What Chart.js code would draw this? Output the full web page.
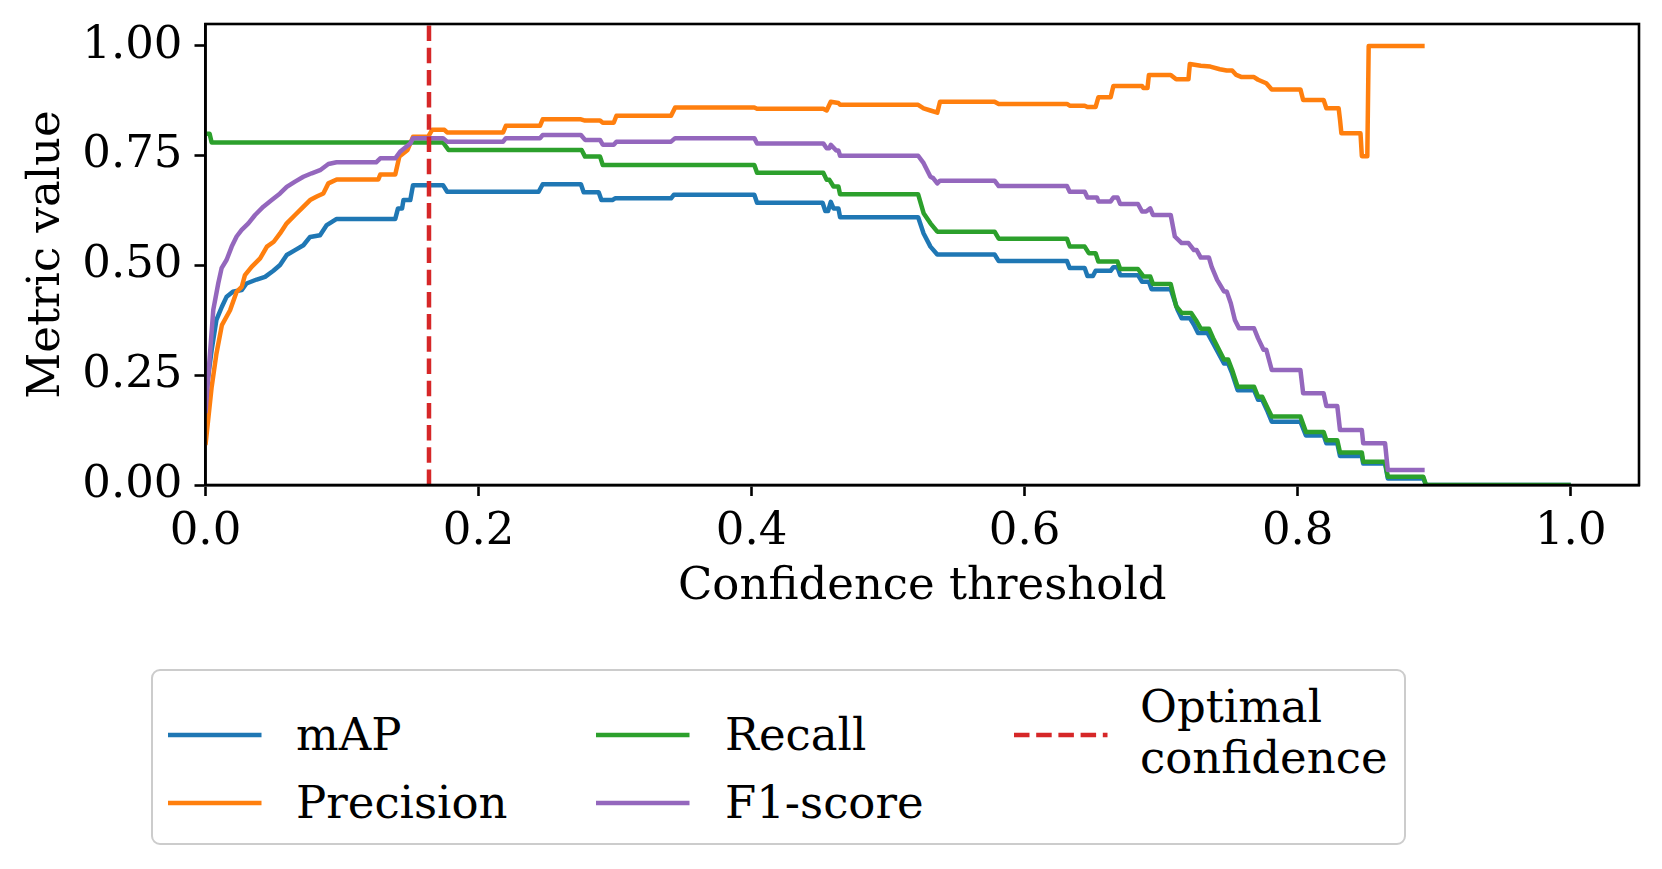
<!DOCTYPE html>
<html><head><meta charset="utf-8">
<script src="https://cdn.jsdelivr.net/npm/chart.js@4.4.0/dist/chart.umd.min.js"></script>
<style>
html,body{margin:0;padding:0;background:#fff;}
#wrap{position:relative;width:1662px;height:869px;overflow:hidden;background:#fff;}
#c{position:absolute;left:0;top:0;}
#legendBox{position:absolute;left:150.6px;top:669px;width:1255px;height:176px;box-sizing:border-box;border:2.5px solid #cccccc;border-radius:9px;background:#fff;}
.lbl{position:absolute;white-space:nowrap;line-height:54px;height:54px;font-family:'DejaVu Serif',serif;font-size:45px;color:#000;}
.hdl{position:absolute;}
</style></head>
<body>
<div id="wrap">
<canvas id="c" width="1662" height="869"></canvas>
<div id="legendBox"></div>
</div>
<script>
// ---- data ----
const xTicks = [0, 0.2, 0.4, 0.6, 0.8, 1.0];
const yTicks = [0, 0.25, 0.5, 0.75, 1.0];
const optimalConfidence = 0.1637;

const mapX = [0.000,0.0045,0.008,0.012,0.0155,0.020,0.0265,0.030,0.0375,0.0436,0.0497,0.0546,0.0595,0.0656,0.0717,0.0766,0.0839,0.0888,0.0961,0.139,0.141,0.144,0.145,0.150,0.152,0.174,0.177,0.244,0.247,0.275,0.277,0.288,0.290,0.298,0.300,0.341,0.343,0.402,0.404,0.452,0.454,0.456,0.458,0.460,0.4636,0.4648,0.522,0.526,0.531,0.536,0.578,0.581,0.631,0.633,0.644,0.646,0.650,0.652,0.663,0.665,0.668,0.670,0.683,0.686,0.691,0.693,0.707,0.712,0.715,0.721,0.724,0.727,0.734,0.738,0.746,0.749,0.752,0.756,0.768,0.771,0.774,0.778,0.781,0.802,0.806,0.819,0.821,0.829,0.831,0.847,0.848,0.864,0.866,0.892,0.894,1.000];
const mapY = [0.200,0.307,0.376,0.406,0.429,0.440,0.444,0.459,0.468,0.474,0.488,0.501,0.524,0.535,0.546,0.565,0.569,0.592,0.606,0.606,0.630,0.630,0.649,0.649,0.683,0.683,0.668,0.668,0.685,0.685,0.667,0.667,0.649,0.649,0.653,0.653,0.661,0.661,0.643,0.643,0.624,0.624,0.645,0.630,0.630,0.610,0.610,0.573,0.543,0.525,0.525,0.510,0.510,0.494,0.494,0.476,0.476,0.488,0.488,0.496,0.496,0.478,0.478,0.463,0.463,0.446,0.446,0.399,0.380,0.380,0.365,0.346,0.346,0.323,0.277,0.277,0.254,0.216,0.216,0.194,0.194,0.167,0.144,0.144,0.113,0.113,0.095,0.095,0.066,0.066,0.049,0.049,0.015,0.015,0.000,0.000];

const precisionX = [0.000,0.0045,0.008,0.012,0.018,0.0228,0.0265,0.0289,0.0338,0.040,0.045,0.050,0.0546,0.0595,0.0656,0.0705,0.0766,0.0815,0.0863,0.090,0.0961,0.1266,0.128,0.139,0.142,0.148,0.152,0.163,0.166,0.175,0.177,0.218,0.220,0.245,0.247,0.275,0.278,0.289,0.291,0.299,0.301,0.341,0.344,0.402,0.404,0.4525,0.455,0.458,0.4636,0.4648,0.522,0.526,0.531,0.536,0.538,0.578,0.581,0.631,0.633,0.644,0.646,0.652,0.654,0.663,0.665,0.686,0.687,0.690,0.691,0.707,0.711,0.720,0.721,0.729,0.736,0.743,0.748,0.752,0.755,0.759,0.768,0.771,0.777,0.781,0.802,0.804,0.819,0.821,0.830,0.831,0.832,0.846,0.847,0.851,0.852,0.893];
const precisionY = [0.091,0.223,0.299,0.364,0.398,0.440,0.451,0.478,0.497,0.516,0.543,0.554,0.573,0.596,0.615,0.630,0.649,0.657,0.664,0.687,0.696,0.696,0.707,0.707,0.748,0.763,0.793,0.793,0.809,0.809,0.803,0.803,0.818,0.818,0.833,0.833,0.830,0.830,0.825,0.825,0.841,0.841,0.860,0.860,0.857,0.857,0.853,0.873,0.870,0.866,0.866,0.858,0.853,0.848,0.873,0.873,0.868,0.868,0.864,0.864,0.861,0.861,0.883,0.883,0.909,0.909,0.904,0.904,0.934,0.934,0.924,0.924,0.959,0.955,0.953,0.947,0.944,0.944,0.934,0.929,0.929,0.923,0.915,0.901,0.901,0.877,0.877,0.858,0.858,0.832,0.801,0.801,0.749,0.749,1.000,1.000];

const recallX = [0.000,0.003,0.0045,0.174,0.178,0.2755,0.278,0.289,0.291,0.402,0.404,0.4525,0.455,0.457,0.460,0.4636,0.4648,0.522,0.526,0.531,0.536,0.578,0.581,0.631,0.633,0.644,0.647,0.652,0.654,0.668,0.670,0.683,0.687,0.692,0.694,0.707,0.711,0.715,0.722,0.726,0.729,0.735,0.738,0.746,0.749,0.752,0.756,0.768,0.771,0.774,0.778,0.781,0.802,0.806,0.819,0.821,0.829,0.831,0.847,0.848,0.864,0.866,0.892,0.894,1.000];
const recallY = [0.800,0.800,0.780,0.780,0.763,0.763,0.748,0.748,0.729,0.729,0.711,0.711,0.695,0.695,0.680,0.680,0.662,0.662,0.619,0.596,0.577,0.577,0.561,0.561,0.543,0.543,0.528,0.528,0.509,0.509,0.492,0.492,0.475,0.475,0.458,0.458,0.407,0.392,0.392,0.373,0.356,0.356,0.335,0.286,0.286,0.262,0.224,0.224,0.201,0.201,0.175,0.156,0.156,0.121,0.121,0.102,0.102,0.074,0.074,0.053,0.053,0.019,0.019,0.000,0.000];

const f1X = [0.000,0.0033,0.0057,0.0094,0.0118,0.0155,0.0192,0.0228,0.0265,0.0314,0.0363,0.0424,0.0485,0.0546,0.0595,0.0656,0.0717,0.0778,0.0839,0.090,0.096,0.125,0.128,0.139,0.1425,0.150,0.152,0.174,0.177,0.218,0.220,0.245,0.247,0.275,0.278,0.289,0.291,0.299,0.301,0.341,0.344,0.402,0.404,0.4525,0.455,0.457,0.458,0.462,0.4636,0.4648,0.522,0.526,0.531,0.533,0.536,0.538,0.578,0.581,0.631,0.633,0.644,0.646,0.653,0.654,0.663,0.665,0.668,0.670,0.683,0.686,0.689,0.692,0.694,0.707,0.710,0.715,0.720,0.724,0.726,0.729,0.735,0.737,0.741,0.746,0.748,0.751,0.754,0.757,0.768,0.771,0.775,0.777,0.781,0.802,0.804,0.819,0.821,0.829,0.831,0.847,0.848,0.864,0.866,0.893];
const f1Y = [0.164,0.300,0.399,0.460,0.494,0.513,0.543,0.566,0.581,0.596,0.615,0.634,0.649,0.664,0.679,0.691,0.702,0.710,0.717,0.731,0.735,0.735,0.744,0.744,0.759,0.778,0.790,0.790,0.782,0.782,0.790,0.790,0.797,0.797,0.786,0.786,0.775,0.775,0.782,0.782,0.790,0.790,0.778,0.778,0.767,0.767,0.775,0.762,0.762,0.750,0.750,0.733,0.702,0.699,0.687,0.693,0.693,0.681,0.681,0.668,0.668,0.655,0.655,0.646,0.646,0.655,0.655,0.640,0.640,0.623,0.623,0.630,0.615,0.615,0.566,0.551,0.551,0.535,0.535,0.518,0.518,0.497,0.467,0.441,0.441,0.414,0.376,0.357,0.357,0.334,0.308,0.308,0.262,0.262,0.209,0.209,0.180,0.180,0.125,0.125,0.095,0.095,0.034,0.034];

const seriesNames = ['mAP', 'Precision', 'Recall', 'F1-score', 'Optimal\nconfidence'];
const seriesColors = ['#1f77b4', '#ff7f0e', '#2ca02c', '#9467bd', '#d62728'];

// ---- chart ----
const FONT = "'DejaVu Serif', 'Liberation Serif', serif";
const FS = 45;
const LW = 4.5;
const DASH = [15.5, 6.7];
function pts(xs, ys){ return xs.map((x, i) => ({x: x, y: ys[i]})); }
const series = [[mapX, mapY], [precisionX, precisionY], [recallX, recallY], [f1X, f1Y]];
const datasets = series.map((s, i) => ({
  label: seriesNames[i],
  data: pts(s[0], s[1]),
  borderColor: seriesColors[i],
  backgroundColor: seriesColors[i],
  borderWidth: LW,
  pointRadius: 0,
  tension: 0,
  fill: false,
  order: 4 - i,
  borderJoinStyle: 'round',
  borderCapStyle: 'butt'
}));
datasets.push({
  label: seriesNames[4],
  data: [{x: optimalConfidence, y: 0}, {x: optimalConfidence, y: 1.05}],
  borderColor: seriesColors[4],
  borderWidth: LW,
  borderDash: DASH,
  pointRadius: 0,
  fill: false,
  order: 0
});

const frame = {
  id: 'frame',
  afterDraw(chart){
    const {ctx, chartArea: a} = chart;
    ctx.save();
    ctx.strokeStyle = '#000';
    ctx.lineWidth = 2.6;
    ctx.strokeRect(a.left, a.top, a.right - a.left, a.bottom - a.top);
    ctx.restore();
  }
};

Chart.defaults.font.family = FONT;
Chart.defaults.color = '#000';

new Chart(document.getElementById('c'), {
  type: 'line',
  data: {datasets: datasets},
  options: {
    responsive: false,
    animation: false,
    devicePixelRatio: 1,
    layout: {padding: {left: 5, right: 23, top: 24, bottom: 249}},
    plugins: {legend: {display: false}, tooltip: {enabled: false}},
    scales: {
      x: {
        type: 'linear', min: 0, max: 1.05,
        afterBuildTicks: (axis) => { axis.ticks = xTicks.map(v => ({value: v})); },
        afterFit: (s) => { s.height = 135; s.paddingLeft = 0; s.paddingRight = 0; s.paddingTop = 0; s.paddingBottom = 0; },
        ticks: {font: {size: FS, family: FONT}, color: '#000', padding: 9.5, maxRotation: 0, autoSkip: false,
                callback: (v) => Number(v).toFixed(1)},
        grid: {display: true, drawOnChartArea: false, drawTicks: true, tickLength: 11, tickWidth: 2.6, tickColor: '#000'},
        border: {display: true, color: '#000', width: 2.6},
        title: {display: true, text: 'Confidence threshold', font: {size: FS, family: FONT}, color: '#000', padding: {top: 0, bottom: 5.7}}
      },
      y: {
        type: 'linear', min: 0, max: 1.05,
        afterBuildTicks: (axis) => { axis.ticks = yTicks.map(v => ({value: v})); },
        afterFit: (s) => { s.width = 200.5; s.paddingLeft = 0; s.paddingRight = 0; s.paddingTop = 0; s.paddingBottom = 0; },
        ticks: {font: {size: FS, family: FONT}, color: '#000', padding: 12, autoSkip: false,
                callback: (v) => Number(v).toFixed(2)},
        grid: {display: true, drawOnChartArea: false, drawTicks: true, tickLength: 11, tickWidth: 2.6, tickColor: '#000'},
        border: {display: true, color: '#000', width: 2.6},
        title: {display: true, text: 'Metric value', font: {size: FS, family: FONT}, color: '#000', padding: {top: 15.5, bottom: 0}}
      }
    }
  },
  plugins: [frame]
});

// ---- legend (HTML, built from series names/colors) ----
const wrap = document.getElementById('wrap');
const legendSlots = [
  {hx: 167.5, tx: 296, cy: 735},
  {hx: 167.5, tx: 296, cy: 803},
  {hx: 596, tx: 725, cy: 735},
  {hx: 596, tx: 725, cy: 803},
  {hx: 1014, tx: 1140, cy: 735}
];
seriesNames.forEach((name, i) => {
  const slot = legendSlots[i];
  const svgNS = 'http://www.w3.org/2000/svg';
  const svg = document.createElementNS(svgNS, 'svg');
  svg.setAttribute('width', '94'); svg.setAttribute('height', '12');
  svg.setAttribute('class', 'hdl');
  svg.style.left = slot.hx + 'px'; svg.style.top = (slot.cy - 6) + 'px';
  const ln = document.createElementNS(svgNS, 'line');
  ln.setAttribute('x1', '0'); ln.setAttribute('x2', '93.5');
  ln.setAttribute('y1', '6'); ln.setAttribute('y2', '6');
  ln.setAttribute('stroke', seriesColors[i]); ln.setAttribute('stroke-width', LW);
  if (i === 4) ln.setAttribute('stroke-dasharray', DASH.join(' '));
  svg.appendChild(ln);
  wrap.appendChild(svg);
  const lines = name.split('\n');
  const lh = 51;
  const y0 = slot.cy - (lines.length - 1) * lh / 2 - (lines.length > 1 ? 3 : 0);
  lines.forEach((t, k) => {
    const d = document.createElement('div');
    d.className = 'lbl';
    d.textContent = t;
    d.style.left = slot.tx + 'px';
    d.style.top = (y0 + k * lh - 27) + 'px';
    wrap.appendChild(d);
  });
});
</script>
</body></html>
